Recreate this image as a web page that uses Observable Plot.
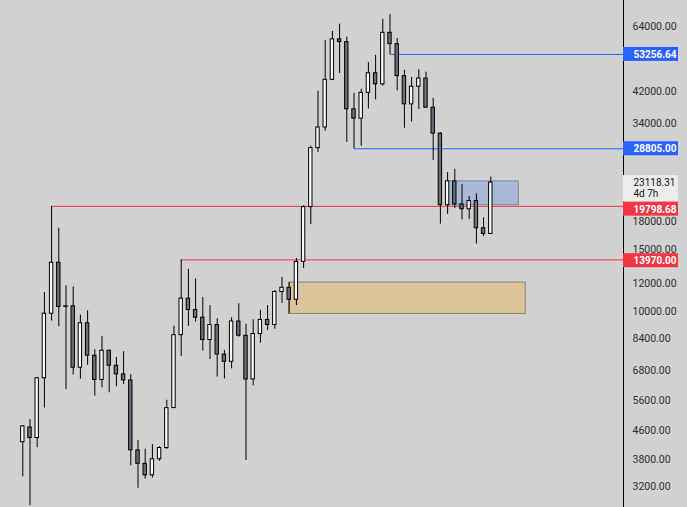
<!DOCTYPE html>
<html><head><meta charset="utf-8">
<script src="https://cdn.jsdelivr.net/npm/d3@7"></script>
<script src="https://cdn.jsdelivr.net/npm/@observablehq/plot@0.6"></script>
<style>
html,body{margin:0;padding:0;background:#d1d1d1;}
#chart{width:687px;height:507px;overflow:hidden;}
</style></head><body><div id="chart"></div>
<script>
// BTCUSDT monthly candles, Aug 2017 – Jan 2023
const months = ["2017-08","2017-09","2017-10","2017-11","2017-12",
"2018-01","2018-02","2018-03","2018-04","2018-05","2018-06","2018-07","2018-08","2018-09","2018-10","2018-11","2018-12",
"2019-01","2019-02","2019-03","2019-04","2019-05","2019-06","2019-07","2019-08","2019-09","2019-10","2019-11","2019-12",
"2020-01","2020-02","2020-03","2020-04","2020-05","2020-06","2020-07","2020-08","2020-09","2020-10","2020-11","2020-12",
"2021-01","2021-02","2021-03","2021-04","2021-05","2021-06","2021-07","2021-08","2021-09","2021-10","2021-11","2021-12",
"2022-01","2022-02","2022-03","2022-04","2022-05","2022-06","2022-07","2022-08","2022-09","2022-10","2022-11","2022-12",
"2023-01"];
const open = [4261.48,4689.89,4378.49,6463.00,9837.00,13715.65,10285.10,10325.64,6922.00,9246.01,7485.01,6391.08,7735.67,7011.21,6626.57,6369.52,4041.27,3701.23,3434.10,3814.26,4102.44,5321.94,8555.00,10854.10,10080.53,9588.74,8289.34,9140.85,7540.63,7195.24,9351.71,8523.61,6412.14,8620.00,9448.27,9138.08,11335.46,11649.51,10776.59,13791.00,19695.87,28923.63,33092.97,45134.11,58739.46,57697.25,37253.82,35045.00,41461.84,47100.89,43820.01,61299.81,56950.56,46216.93,38466.90,43160.00,45510.35,37630.80,31801.05,19942.21,23296.36,20048.44,19422.61,20490.74,17165.53,16541.77];
const high = [4745.42,4939.19,6498.01,11300.03,19798.68,17176.24,11786.01,11710.00,9759.82,10020.00,7786.69,8491.77,7750.00,7410.00,7680.00,6615.15,4312.99,4069.80,4198.00,4140.00,5600.00,9074.26,13970.00,13147.08,12330.70,10939.00,10370.00,9513.68,7750.00,9578.00,10500.00,9188.00,9460.00,10067.00,10380.00,11444.00,12468.00,12050.85,14100.00,19863.16,29300.00,41950.00,58352.80,61844.00,64854.00,59592.20,41330.00,42448.00,50500.00,52920.00,67000.00,69000.00,59053.55,47990.00,45821.00,48189.84,47444.11,40023.77,31986.10,24668.00,25211.32,22799.00,21085.00,21480.65,18387.95,23960.54];
const low = [3400.00,2817.00,4110.00,5325.01,9380.00,9035.00,6000.01,6600.10,6430.00,7032.95,5750.00,6070.00,5880.00,6111.00,6205.00,3652.66,3156.26,3349.92,3373.10,3759.01,4067.00,5316.20,7444.58,9060.00,9320.00,7710.00,7300.00,6515.00,6435.00,6871.04,8445.00,3782.13,6150.11,8117.00,8833.00,8893.03,10518.50,9825.00,10374.00,13195.05,17572.33,28130.00,32296.16,44950.53,47044.01,30000.00,28805.00,29278.00,37332.70,39600.00,43283.03,53256.64,42000.30,32917.17,34322.28,37155.00,37578.20,26700.00,17622.00,18781.00,19520.00,18125.98,18190.00,15476.00,16256.30,16499.01];
const close = [4724.89,4378.51,6463.00,9838.96,13716.36,10285.10,10326.50,6923.91,9246.01,7485.01,6391.08,7730.93,7011.21,6626.57,6371.93,4041.32,3702.90,3434.10,3813.69,4103.95,5320.81,8555.00,10854.10,10080.53,9587.47,8289.97,9140.86,7541.89,7195.23,9352.89,8523.61,6410.44,8620.00,9448.27,9138.55,11335.46,11649.51,10776.59,13791.00,19695.87,28923.63,33092.98,45135.66,58740.55,57694.27,37253.81,35045.00,41461.83,47100.89,43824.10,61299.80,56950.56,46216.93,38466.90,43160.00,45510.34,37630.80,31801.04,19942.21,23293.32,20050.02,19422.61,20490.74,17163.64,16542.40,23118.31];

// price-axis tick labels
const tickValues = [64000,42000,34000,18000,15000,12000,10000,8400,6800,5600,4600,3800,3200];

// horizontal levels (start month, price, colour kind)
const levelStart = ["2017-12","2019-06","2021-06","2021-11"];
const levelPrice = [19798.68,13970.00,28805.00,53256.64];
const levelKind  = ["red","red","blue","blue"];

// zones (start month, bars to the right edge, low, high)
const zoneStart = ["2020-09","2022-07"];
const zoneBars  = [32.85,9.9];
const zoneLow   = [9825.00,19942.21];
const zoneHigh  = [12050.85,23293.32];
const zoneKind  = ["tan","blue"];

const lastPrice = 23118.31;
const countdown = "4d 7h";

const COLORS = {red:"#f23645", blue:"#2962ff", up:"#f8f8f8", down:"#6b6e79", tan:"#dcc39c", tanStroke:"#8d806d", blueZone:"#a7b9d7", blueStroke:"#7d8898"};

const candles = months.map((m,i)=>({i, m, o:open[i], h:high[i], l:low[i], c:close[i]}));
const idx = m => months.indexOf(m);
const levels = levelPrice.map((p,k)=>({x:idx(levelStart[k]), price:p, kind:levelKind[k]}));
const zones = zoneStart.map((s,k)=>({x1:idx(s), x2:idx(s)+zoneBars[k], lo:zoneLow[k], hi:zoneHigh[k], kind:zoneKind[k]}));

const X0 = -3.097, XMAX = 83.43;
const FONT = "Roboto, 'Liberation Sans', Arial, sans-serif";

const tagMarks = [];
const tagShift = [2.8, 0.8, 0, 0];
levels.forEach((d,k)=>{
  tagMarks.push(Plot.rect([d], {x1: XMAX, x2: XMAX, y1:"price", y2:"price", insetLeft:0, insetRight:-55, insetTop:-7, insetBottom:-7, dy: tagShift[k], fill: COLORS[d.kind]}));
  tagMarks.push(Plot.text([d], {x: XMAX, y:"price", text: v=>v.price.toFixed(2), dx:10, dy: tagShift[k]+0.4, textAnchor:"start", fill:"#ffffff", fontWeight:"bold", fontSize:10, fontFamily:FONT}));
});

const chart = Plot.plot({
  width: 687, height: 507,
  marginTop: 0, marginBottom: 0, marginLeft: 0, marginRight: 64,
  style: {background:"#d1d1d1", fontFamily: FONT},
  x: {domain:[X0, XMAX], axis:null},
  y: {type:"log", domain:[2785.3, 75657], axis:null},
  marks: [
    Plot.rect(zones, {x1:"x1", x2:"x2", y1:"lo", y2:"hi",
      fill: d=> d.kind==="tan" ? COLORS.tan : COLORS.blueZone,
      stroke: d=> d.kind==="tan" ? COLORS.tanStroke : COLORS.blueStroke, strokeWidth:1}),
    Plot.ruleY(levels, {y:"price", x1:"x", x2: XMAX, stroke: d=>COLORS[d.kind], strokeWidth:1}),
    Plot.ruleX(candles, {x:"i", y1:"l", y2:"h", stroke:"#000000", strokeWidth:1}),
    Plot.rect(candles, {x1: d=>d.i-0.235, x2: d=>d.i+0.235, y1:"o", y2:"c",
      fill: d=> d.c>=d.o ? COLORS.up : COLORS.down, stroke:"#000000", strokeWidth:1}),
    Plot.ruleX([XMAX], {stroke:"#000000", strokeWidth:1}),
    Plot.text(tickValues, {x: XMAX, y: d=>d, text: d=>d.toFixed(2), dx:9, dy:0.3, textAnchor:"start", fill:"#303030", fontSize:10.5, fontFamily:FONT}),
    Plot.rect([lastPrice], {x1: XMAX, x2: XMAX, y1: d=>d, y2: d=>d, insetLeft:0, insetRight:-55, insetTop:-7, insetBottom:-19.6, fill:"#ececec"}),
    Plot.text([lastPrice], {x: XMAX, y: d=>d, text: d=>d.toFixed(2), dx:10, dy:0.6, textAnchor:"start", fill:"#131722", fontSize:10, fontFamily:FONT}),
    Plot.text([countdown], {x: XMAX, y: lastPrice, text: d=>d, dx:10, dy:11.4, textAnchor:"start", fill:"#131722", fontSize:10, fontFamily:FONT}),
    ...tagMarks
  ]
});
document.getElementById("chart").appendChild(chart);
</script></body></html>
